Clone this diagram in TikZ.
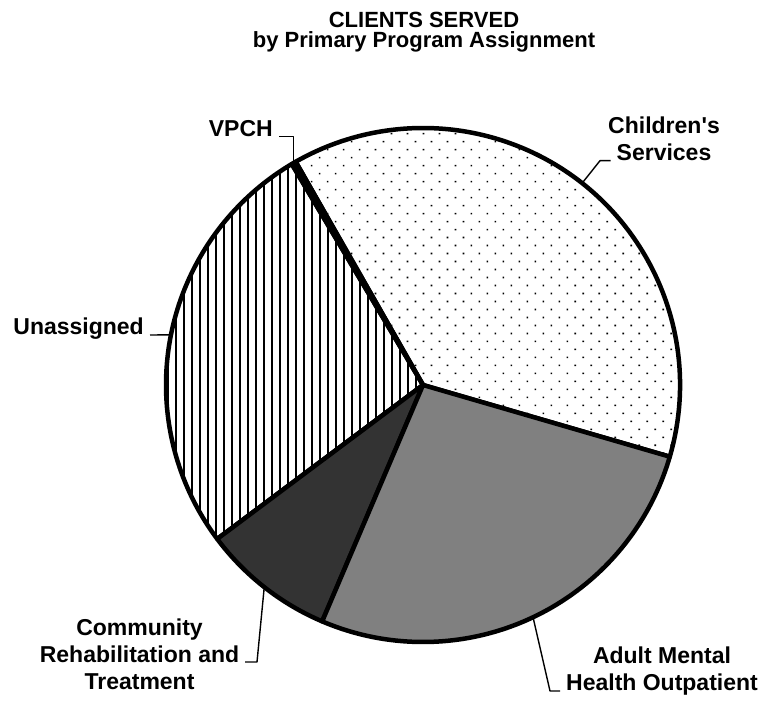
\documentclass[tikz,border=0pt]{standalone}
\usepackage{fontspec}
\setmainfont{Liberation Sans}
\usetikzlibrary{patterns.meta}

\begin{document}
\begin{tikzpicture}[x=1pt, y=1pt, line join=round,
  slice/.style={draw, line width=4.5pt},
  leader/.style={line width=1.4pt},
  lbl/.style={font=\bfseries\fontsize{23}{27}\selectfont, align=center, inner sep=0pt}]
  \useasboundingbox (0,0) rectangle (767,701);
  % Title
  \node[font=\bfseries\fontsize{22}{20}\selectfont, align=center, inner sep=0pt, anchor=north] (title) at (424,689) {CLIENTS SERVED\\by Primary Program Assignment};

  % Slices
  \coordinate (C) at (423,316);
  \draw[slice, pattern={Dots[angle=45, distance=11.3pt, radius=1.15pt]}] (C) -- ++(-16.2:257) arc[start angle=-16.2, end angle=119.7, radius=257] -- cycle;
  \draw[slice, fill=white] (C) -- ++(119.7:257) arc[start angle=119.7, end angle=120.7, radius=257] -- cycle;
  \draw[slice, pattern={Lines[angle=90, distance=8pt, line width=1.5pt]}] (C) -- ++(120.7:257) arc[start angle=120.7, end angle=216.8, radius=257] -- cycle;
  \draw[slice, fill={rgb,255:red,51;green,51;blue,51}] (C) -- ++(216.8:257) arc[start angle=216.8, end angle=246.9, radius=257] -- cycle;
  \draw[slice, fill={rgb,255:red,128;green,128;blue,128}] (C) -- ++(246.9:257) arc[start angle=246.9, end angle=343.8, radius=257] -- cycle;

  % Labels
  \node[lbl, anchor=base east] (vpch) at (273,564.3) {VPCH};
  \node[lbl, anchor=north] (child) at (664,584.3) {Children\textquotesingle s\\Services};
  \node[lbl, anchor=base east] (unas) at (144,366) {Unassigned};
  \node[lbl, anchor=north] (comm) at (139.5,82.7) {Community\\Rehabilitation and\\Treatment};
  \node[lbl, anchor=north] (adult) at (662,54.3) {Adult Mental\\Health Outpatient};

  % Leader lines
  \coordinate (vpchE) at ([shift={(C)}]120.2:257);
  \coordinate (childL) at (610.7,540.3);
  \coordinate (childK) at (600,540.3);
  \coordinate (childE) at ([shift={(C)}]51.75:257);
  \coordinate (unasE) at ([shift={(C)}]168.75:257);
  \coordinate (commL) at (245,39);
  \coordinate (commK) at (257,39);
  \coordinate (commE) at ([shift={(C)}]231.85:257);
  \coordinate (adultL) at (560,10);
  \coordinate (adultK) at (550,10);
  \coordinate (adultE) at ([shift={(C)}]-64.65:257);
  \draw[leader] ([xshift=6pt]vpch.base east) -| (vpchE);
  \draw[leader] (childL) -- (childK) -- (childE);
  \draw[leader] ([xshift=6pt]unas.base east) -- (unasE);
  \draw[leader] (commL) -- (commK) -- (commE);
  \draw[leader] (adultL) -- (adultK) -- (adultE);
\end{tikzpicture}
\end{document}
